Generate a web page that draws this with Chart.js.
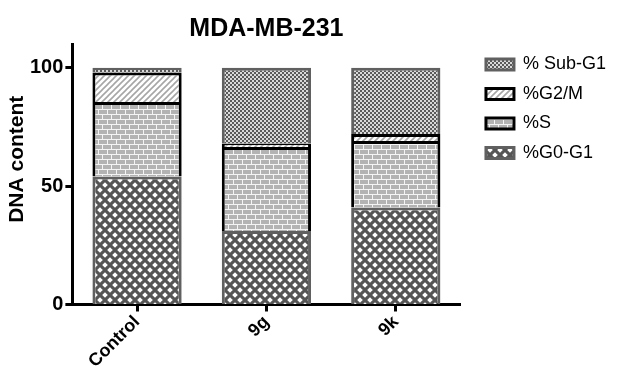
<!DOCTYPE html>
<html>
<head>
<meta charset="utf-8">
<script src="https://cdn.jsdelivr.net/npm/chart.js@4"></script>
<style>
  html, body { margin: 0; padding: 0; background: #fff; }
</style>
</head>
<body>
<canvas id="chart" width="626" height="372"></canvas>
<script>
const categories = ['Control', '9g', '9k'];
const g0g1 = [54, 31, 41];
const sPhase = [31.5, 35.5, 28];
const g2m = [12.5, 1.5, 3];
const subG1 = [2, 32, 28];
const yTicks = [0, 50, 100];

const canvas = document.getElementById('chart');

// small tiles used as fills, like the GraphPad hatch styles
function makePattern(w, h, draw) {
  const c = document.createElement('canvas');
  c.width = w;
  c.height = h;
  draw(c.getContext('2d'));
  return canvas.getContext('2d').createPattern(c, 'repeat');
}

const diamonds = makePattern(10, 10, ctx => {
  ctx.fillStyle = '#555';
  ctx.fillRect(0, 0, 10, 10);
  ctx.fillStyle = '#fff';
  [[5, 5], [0, 0], [10, 0], [0, 10], [10, 10]].forEach(([x, y]) => {
    ctx.beginPath();
    ctx.moveTo(x, y - 2.8);
    ctx.lineTo(x + 2.8, y);
    ctx.lineTo(x, y + 2.8);
    ctx.lineTo(x - 2.8, y);
    ctx.closePath();
    ctx.fill();
  });
});

const bricks = makePattern(18, 10, ctx => {
  ctx.fillStyle = '#f4f4f4';
  ctx.fillRect(0, 0, 18, 10);
  ctx.fillStyle = '#b3b3b3';
  ctx.fillRect(0, 0, 8, 4);
  ctx.fillRect(9, 0, 8, 4);
  ctx.fillRect(-5, 5, 8, 4);
  ctx.fillRect(4, 5, 8, 4);
  ctx.fillRect(13, 5, 8, 4);
});

const hatch = makePattern(6, 6, ctx => {
  ctx.fillStyle = '#fff';
  ctx.fillRect(0, 0, 6, 6);
  ctx.strokeStyle = '#a6a6a6';
  ctx.lineWidth = 1.6;
  ctx.beginPath();
  ctx.moveTo(-1, 7); ctx.lineTo(7, -1);
  ctx.moveTo(-1, 1); ctx.lineTo(1, -1);
  ctx.moveTo(5, 7); ctx.lineTo(7, 5);
  ctx.stroke();
});

const checker = makePattern(4, 4, ctx => {
  ctx.fillStyle = '#5a5a5a';
  ctx.fillRect(0, 0, 4, 4);
  ctx.fillStyle = '#d9d9d9';
  ctx.fillRect(0, 0, 2, 2);
  ctx.fillRect(2, 2, 2, 2);
});

// leave some room between the plot and the legend
const GAP = 14;
const legendGap = {
  id: 'legendGap',
  beforeLayout(chart) {
    const lg = chart.legend;
    if (lg && !lg._gapped) {
      const fit = lg.fit;
      lg.fit = function () { fit.call(this); this.width += GAP; };
      lg._gapped = true;
    }
  },
  afterLayout(chart) {
    chart.legend.left += GAP;
  }
};

Chart.defaults.font.family = "'Liberation Sans', Arial, sans-serif";
Chart.defaults.color = '#000';

new Chart(canvas, {
  type: 'bar',
  data: {
    labels: categories,
    datasets: [
      { label: '%G0-G1', data: g0g1, backgroundColor: diamonds, borderColor: '#606060' },
      { label: '%S', data: sPhase, backgroundColor: bricks, borderColor: '#000' },
      { label: '%G2/M', data: g2m, backgroundColor: hatch, borderColor: '#000' },
      { label: '% Sub-G1', data: subG1, backgroundColor: checker, borderColor: '#606060' }
    ]
  },
  options: {
    responsive: false,
    animation: false,
    datasets: {
      bar: { borderWidth: 3, categoryPercentage: 1, barPercentage: 0.69 }
    },
    layout: { padding: { left: 2, right: 10, top: 0, bottom: 0 } },
    scales: {
      x: {
        stacked: true,
        offset: true,
        grid: { drawOnChartArea: false, offset: false, tickLength: 7, tickWidth: 3, tickColor: '#000' },
        border: { width: 3, color: '#000' },
        ticks: { font: { size: 18, weight: 'bold' }, minRotation: 45, maxRotation: 45, padding: 0 }
      },
      y: {
        stacked: true,
        min: 0,
        max: 110,
        afterBuildTicks: axis => { axis.ticks = yTicks.map(v => ({ value: v })); },
        // the axis title sits a bit above the middle of the axis in the original
        afterFit(scale) {
          if (!scale._titleMoved) {
            const drawTitle = scale.drawTitle;
            scale.drawTitle = function () {
              this.ctx.save();
              this.ctx.translate(0, -15);
              drawTitle.call(this);
              this.ctx.restore();
            };
            scale._titleMoved = true;
          }
        },
        grid: { drawOnChartArea: false, tickLength: 7, tickWidth: 3, tickColor: '#000' },
        border: { width: 3, color: '#000' },
        ticks: { font: { size: 20, weight: 'bold' }, padding: 2 },
        title: {
          display: true,
          text: 'DNA content',
          font: { size: 21, weight: 'bold', lineHeight: 1 },
          padding: { top: 5, bottom: 0 }
        }
      }
    },
    plugins: {
      title: {
        display: true,
        text: 'MDA-MB-231',
        fullSize: false,
        font: { size: 25, weight: 'bold' },
        padding: { top: 14, bottom: 0 }
      },
      legend: {
        position: 'right',
        align: 'start',
        fullSize: false,
        reverse: true,
        labels: { boxWidth: 28, boxHeight: 11, padding: 11.5, font: { size: 18 } }
      },
      tooltip: { enabled: false }
    }
  },
  plugins: [legendGap]
});
</script>
</body>
</html>
